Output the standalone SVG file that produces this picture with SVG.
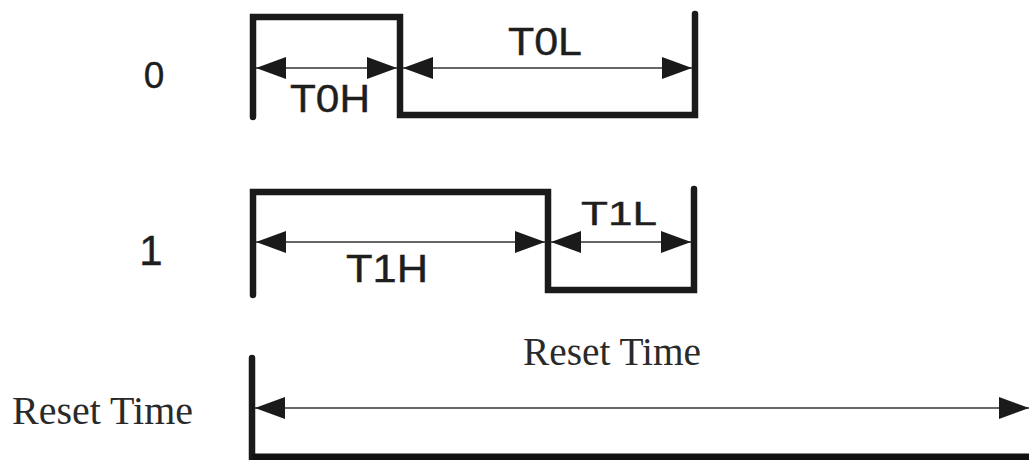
<svg xmlns="http://www.w3.org/2000/svg" width="1029" height="460" viewBox="0 0 1029 460">
<defs>
<style>
.wave{fill:none;stroke:#1a1a1a;stroke-width:6.5;stroke-linejoin:miter;stroke-linecap:round}
.dim{fill:none;stroke:#333;stroke-width:1.6;marker-start:url(#ah);marker-end:url(#ah)}
.lbl{font-family:"Liberation Sans",Arial,sans-serif;fill:#1e1e1e;stroke:#1e1e1e;stroke-width:0.4}
.ser{font-family:"Liberation Serif","Times New Roman",serif;fill:#2a2a2a;font-size:39px}
</style>
<marker id="ah" markerUnits="userSpaceOnUse" markerWidth="30" markerHeight="22" refX="30" refY="11" orient="auto-start-reverse" viewBox="0 0 30 22">
<path d="M0,0 L30,11 L0,22 z" fill="#1a1a1a"/>
</marker>
</defs>
<rect width="1029" height="460" fill="#fff"/>
<g id="label-0"><text class="lbl" x="154" y="88" font-size="37" text-anchor="middle">0</text></g>
<g id="label-1"><text class="lbl" x="151" y="265" font-size="42" text-anchor="middle">1</text></g>
<g id="label-reset"><text class="ser" x="12" y="424" textLength="181" lengthAdjust="spacingAndGlyphs">Reset Time</text></g>
<g id="wave-0">
<path class="wave" d="M253,117 V17 H400 V115 H695 V14"/>
<text class="lbl" x="290" y="112" font-size="39" textLength="80" lengthAdjust="spacingAndGlyphs">T0H</text>
<text class="lbl" x="508" y="55" font-size="39" textLength="74" lengthAdjust="spacingAndGlyphs">T0L</text>
</g>
<g id="wave-1">
<path class="wave" d="M253,295 V192 H548 V290 H694 V189"/>
<text class="lbl" x="346" y="282" font-size="39" textLength="82" lengthAdjust="spacingAndGlyphs">T1H</text>
<text class="lbl" x="581" y="225" font-size="34" textLength="76" lengthAdjust="spacingAndGlyphs">T1L</text>
</g>
<g id="reset">
<path class="wave" d="M252,358 V460"/>
<path d="M252,457 H1032" stroke="#111" stroke-width="7" fill="none"/>
<text class="ser" x="523" y="365" textLength="178" lengthAdjust="spacingAndGlyphs">Reset Time</text>
</g>
<g id="connectors">
<line class="dim" x1="256" y1="68" x2="397" y2="68"/>
<line class="dim" x1="403" y1="68" x2="692" y2="68"/>
<line class="dim" x1="256" y1="242" x2="545" y2="242"/>
<line class="dim" x1="551" y1="242" x2="691" y2="242"/>
<line class="dim" x1="255" y1="408" x2="1029" y2="408"/>
</g>
</svg>
